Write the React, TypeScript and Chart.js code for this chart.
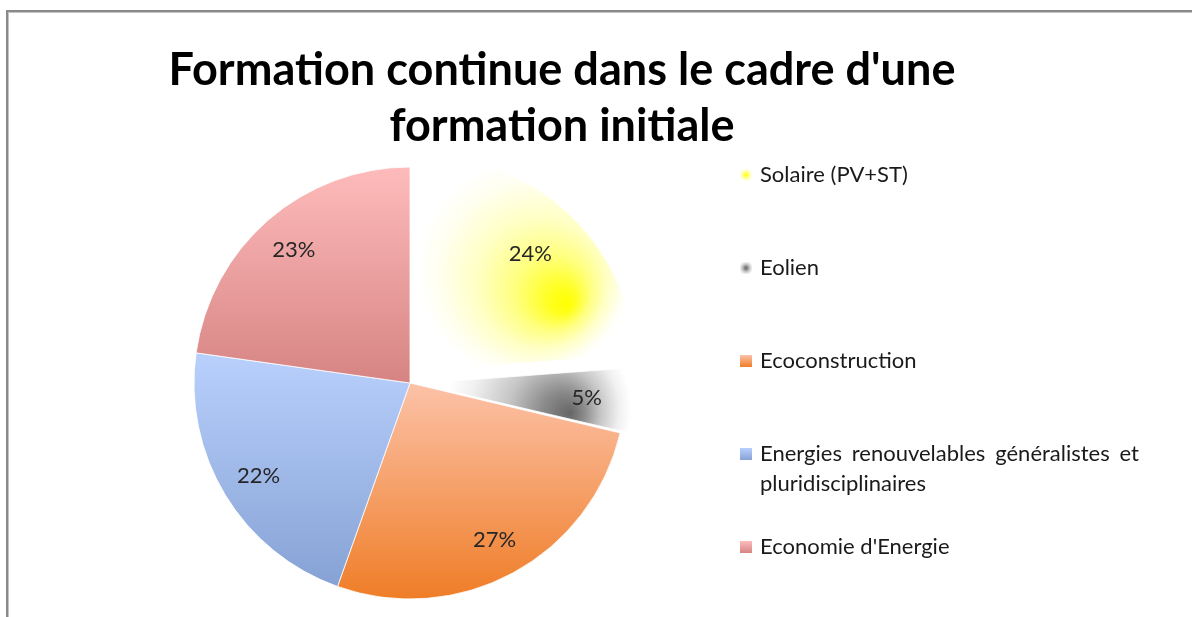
import React, { useEffect, useRef } from "react";
import { Chart, registerables } from "chart.js";

Chart.register(...registerables);

// ---------------- data ----------------
const titleLines = ["Formation continue dans le cadre d'une", "formation initiale"];
const categories: (string | string[])[] = [
  "Solaire (PV+ST)",
  "Eolien",
  "Ecoconstruction",
  ["Energies renouvelables généralistes et", "pluridisciplinaires"],
  "Economie d'Energie",
];
const shares = [24, 5, 27, 22, 23];
const shareLabels = shares.map((v) => `${v}%`);

// ---------------- styles / layout ----------------
const W = 1192;
const H = 617;
const PIE_R = 216;
const PIE_CX = 410;
const PIE_CY = 383;

type Fill =
  | {
      kind: "radial";
      angleFrac: number;
      distFrac: number;
      endDx: number;
      endDy: number;
      endR: number;
      stops: [number, string][];
    }
  | { kind: "linear"; top: string; bottom: string };

const sliceFills: Fill[] = [
  {
    kind: "radial",
    angleFrac: 0.77,
    distFrac: 0.745,
    endDx: -0.2,
    endDy: -0.17,
    endR: 0.5,
    stops: [
      [0, "#ffff00"],
      [0.12, "#ffff20"],
      [0.35, "#ffff80"],
      [0.6, "#ffffc4"],
      [0.85, "#fffff0"],
      [1, "#ffffff"],
    ],
  },
  {
    kind: "radial",
    angleFrac: 0.87,
    distFrac: 0.72,
    endDx: -0.15,
    endDy: -0.02,
    endR: 0.43,
    stops: [
      [0, "#666666"],
      [0.22, "#8a8a8a"],
      [0.5, "#c6c6c6"],
      [0.8, "#f0f0f0"],
      [1, "#ffffff"],
    ],
  },
  { kind: "linear", top: "#fcc2a8", bottom: "#ef7d27" },
  { kind: "linear", top: "#b9d0fd", bottom: "#86a2d4" },
  { kind: "linear", top: "#febbbb", bottom: "#d68483" },
];
const sliceOffsets = [64, 32, 0, 0, 0]; // Chart.js arc offset (translation = offset / 4)

const TITLE_FONT = "bold 45px Lato";
const TITLE_CX = 562;
const TITLE_BASE = 85;
const TITLE_STEP = 56;
const TITLE_W = 787;

const LEG_FONT = "22px Lato";
const LEG_MARK_X = 740;
const LEG_TEXT_X = 760;
const LEG_TOP = 182;
const LEG_STEP = 93;
const LEG_LINE = 30;
const LEG_WRAP_W = 379;

const LABEL_FONT = "22px Lato";
const LABEL_DIST = 0.82;

function sliceAngles(i: number) {
  const total = shares.reduce((a, b) => a + b, 0);
  let a0 = 0;
  for (let k = 0; k < i; k++) a0 += (shares[k] / total) * Math.PI * 2;
  const a1 = a0 + (shares[i] / total) * Math.PI * 2;
  return { a0, a1 };
}

function sliceFill(chart: any, i: number) {
  const ca = chart.chartArea;
  const f = sliceFills[i];
  if (!ca || !f) return f && f.kind === "linear" ? f.bottom : "#ffff80";
  const ctx: CanvasRenderingContext2D = chart.ctx;
  const cx = (ca.left + ca.right) / 2;
  const cy = (ca.top + ca.bottom) / 2;
  const { a0, a1 } = sliceAngles(i);
  const shift = sliceOffsets[i] / 4;
  const mid = (a0 + a1) / 2;
  const ox = cx + shift * Math.sin(mid);
  const oy = cy - shift * Math.cos(mid);
  if (f.kind === "linear") {
    let minY = oy;
    let maxY = oy;
    for (let t = 0; t <= 90; t++) {
      const a = a0 + ((a1 - a0) * t) / 90;
      const y = oy - PIE_R * Math.cos(a);
      minY = Math.min(minY, y);
      maxY = Math.max(maxY, y);
    }
    const g = ctx.createLinearGradient(0, minY, 0, maxY);
    g.addColorStop(0, f.top);
    g.addColorStop(1, f.bottom);
    return g;
  }
  const a = a0 + f.angleFrac * (a1 - a0);
  const gx = cx + f.distFrac * PIE_R * Math.sin(a);
  const gy = cy - f.distFrac * PIE_R * Math.cos(a);
  const ex = gx + f.endDx * PIE_R;
  const ey = gy + f.endDy * PIE_R;
  const g = ctx.createRadialGradient(gx, gy, 0, ex, ey, f.endR * PIE_R);
  f.stops.forEach(([p, c]) => g.addColorStop(p, c));
  return g;
}

function markerFill(ctx: CanvasRenderingContext2D, i: number, x: number, y: number, s: number) {
  const f = sliceFills[i];
  if (f.kind === "linear") {
    const g = ctx.createLinearGradient(0, y, 0, y + s);
    g.addColorStop(0, f.top);
    g.addColorStop(1, f.bottom);
    return g;
  }
  const g = ctx.createRadialGradient(x + s / 2, y + s / 2, 0, x + s / 2, y + s / 2, s * 0.62);
  f.stops.forEach(([p, c]) => g.addColorStop(p, c));
  return g;
}

const framePlugin = {
  id: "frame",
  beforeDraw(chart: any) {
    const ctx: CanvasRenderingContext2D = chart.ctx;
    ctx.save();
    ctx.fillStyle = "#ffffff";
    ctx.fillRect(0, 0, W, H);
    ctx.fillStyle = "#8a8a8a";
    ctx.fillRect(6, 10, W - 6, 2);
    ctx.fillRect(6, 10, 2, H - 10);
    ctx.fillStyle = "#c4c4c4";
    ctx.fillRect(8, 12, W - 8, 1);
    ctx.fillRect(8, 12, 1, H - 12);
    ctx.restore();
  },
};

const titlePlugin = {
  id: "customTitle",
  afterDraw(chart: any) {
    const ctx: CanvasRenderingContext2D = chart.ctx;
    ctx.save();
    ctx.font = TITLE_FONT;
    ctx.fillStyle = "#000000";
    ctx.textAlign = "center";
    ctx.textBaseline = "alphabetic";
    const w1 = ctx.measureText(titleLines[0]).width;
    const sx = TITLE_W / w1;
    titleLines.forEach((line, k) => {
      ctx.save();
      ctx.translate(TITLE_CX, TITLE_BASE + TITLE_STEP * k);
      ctx.scale(sx, 1);
      ctx.fillText(line, 0, 0);
      ctx.restore();
    });
    ctx.restore();
  },
};

function drawJustified(ctx: CanvasRenderingContext2D, text: string, x: number, y: number, width: number) {
  const words = text.split(" ");
  const wordsW = words.map((w) => ctx.measureText(w).width);
  const sumW = wordsW.reduce((a, b) => a + b, 0);
  const spaceW = ctx.measureText(" ").width;
  const natural = sumW + spaceW * (words.length - 1);
  if (natural >= width || words.length < 2) {
    ctx.fillText(text, x, y, width);
    return;
  }
  const gap = (width - sumW) / (words.length - 1);
  let cx = x;
  words.forEach((w, k) => {
    ctx.fillText(w, cx, y);
    cx += wordsW[k] + gap;
  });
}

const legendPlugin = {
  id: "customLegend",
  afterDraw(chart: any) {
    const ctx: CanvasRenderingContext2D = chart.ctx;
    const labels = chart.data.labels as (string | string[])[];
    ctx.save();
    ctx.font = LEG_FONT;
    ctx.textAlign = "left";
    ctx.textBaseline = "alphabetic";
    labels.forEach((lab, i) => {
      const base = LEG_TOP + LEG_STEP * i;
      const ms = 12;
      const my = base - 13;
      ctx.fillStyle = markerFill(ctx, i, LEG_MARK_X, my, ms);
      ctx.fillRect(LEG_MARK_X, my, ms, ms);
      ctx.fillStyle = "#1a1a1a";
      const lines = Array.isArray(lab) ? lab : [lab];
      lines.forEach((ln, k) => {
        const y = base + LEG_LINE * k;
        if (k < lines.length - 1) drawJustified(ctx, ln, LEG_TEXT_X, y, LEG_WRAP_W);
        else ctx.fillText(ln, LEG_TEXT_X, y);
      });
    });
    ctx.restore();
  },
};

const labelPlugin = {
  id: "sliceLabels",
  afterDatasetsDraw(chart: any) {
    const ctx: CanvasRenderingContext2D = chart.ctx;
    const meta = chart.getDatasetMeta(0);
    ctx.save();
    ctx.font = LABEL_FONT;
    ctx.fillStyle = "#262626";
    ctx.textAlign = "center";
    ctx.textBaseline = "alphabetic";
    meta.data.forEach((arc: any, i: number) => {
      const p = arc.getProps(["x", "y", "startAngle", "endAngle", "outerRadius"], true);
      const mid = (p.startAngle + p.endAngle) / 2;
      const r = PIE_R * LABEL_DIST;
      const x = p.x + Math.cos(mid) * r;
      const y = p.y + Math.sin(mid) * r;
      ctx.fillText(shareLabels[i], x, y + 8);
    });
    ctx.restore();
  },
};

export default function App() {
  const ref = useRef<HTMLCanvasElement>(null);
  useEffect(() => {
    const canvas = ref.current;
    if (!canvas) return;
    const chart = new Chart(canvas, {
      type: "pie",
      data: {
        labels: categories as any,
        datasets: [
          {
            data: shares,
            backgroundColor: (c: any) => sliceFill(c.chart, c.dataIndex),
            offset: sliceOffsets,
            hoverOffset: 0,
            borderWidth: 0.8,
            borderColor: "#ffffff",
            radius: PIE_R,
          } as any,
        ],
      },
      options: {
        responsive: false,
        animation: false,
        events: [],
        radius: PIE_R,
        layout: {
          padding: {
            left: PIE_CX - 230,
            right: W - (PIE_CX + 230),
            top: PIE_CY - 233,
            bottom: H - (PIE_CY + 233),
          },
        },
        plugins: {
          legend: { display: false },
          tooltip: { enabled: false },
          title: { display: false },
        },
      } as any,
      plugins: [framePlugin, titlePlugin, legendPlugin, labelPlugin],
    });
    return () => chart.destroy();
  }, []);

  return (
    <div style={{ position: "fixed", left: 0, top: 0, width: W, height: H, background: "#ffffff" }}>
      <canvas ref={ref} width={W} height={H} style={{ display: "block", width: W, height: H }} />
    </div>
  );
}
